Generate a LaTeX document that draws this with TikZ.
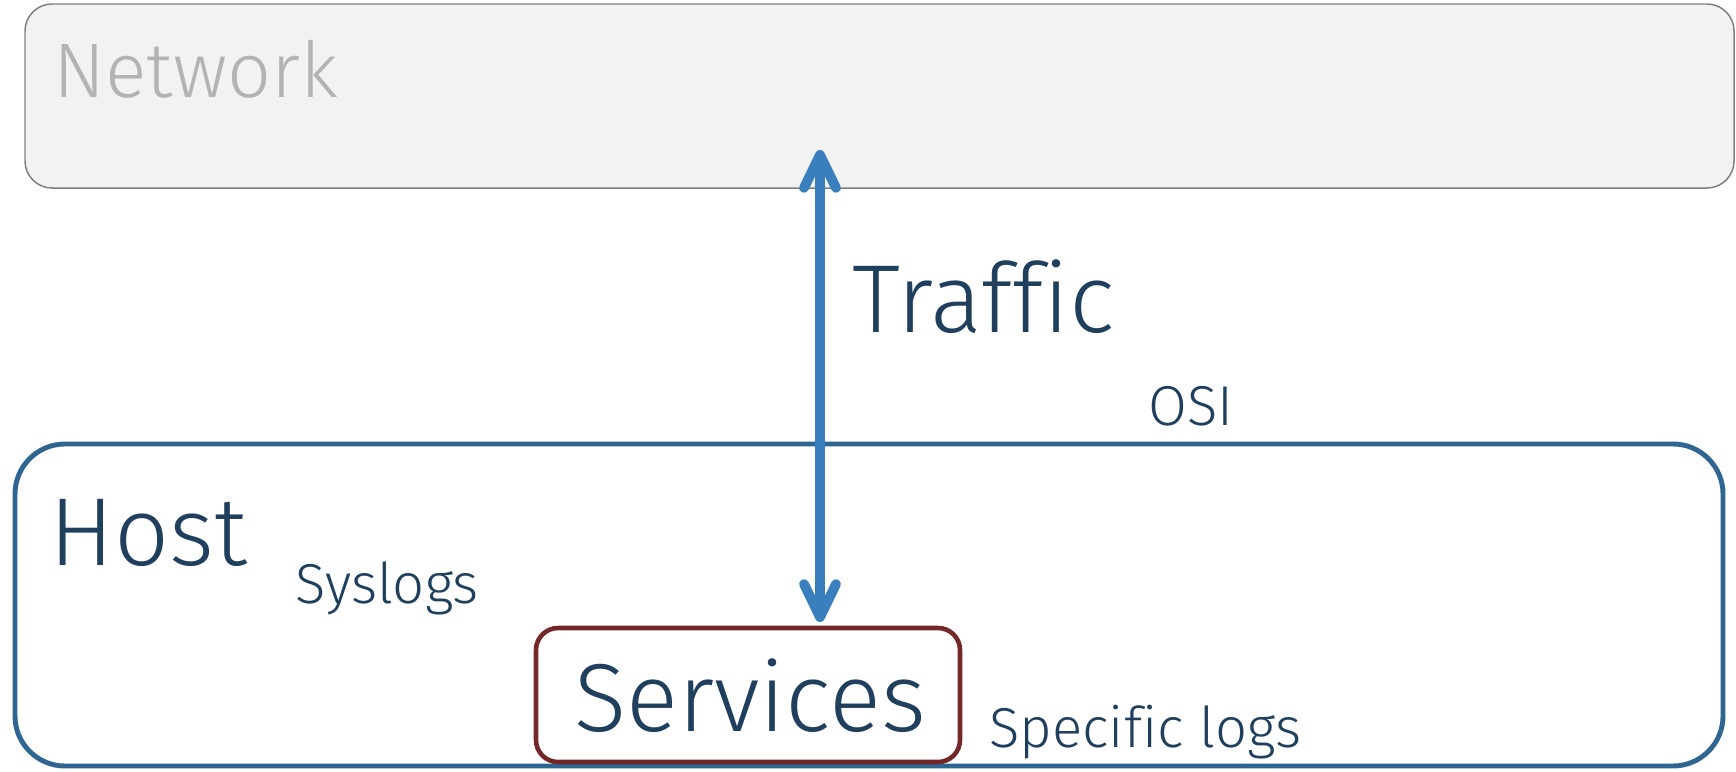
\documentclass[tikz,border=0pt]{standalone}
\usepackage{fontspec}
\setmainfont{Fira Sans Light}[Ligatures=NoCommon]
\usetikzlibrary{arrows.meta,fit}

\definecolor{netfill}{HTML}{F2F2F2}
\definecolor{netline}{HTML}{808080}
\definecolor{nettext}{HTML}{B3B3B3}
\definecolor{hostline}{HTML}{2F6591}
\definecolor{svcline}{HTML}{722828}
\definecolor{darktext}{HTML}{1F3F5C}
\definecolor{flow}{HTML}{3A7FBD}

\begin{document}
\begin{tikzpicture}[x=0.02cm,y=-0.02cm,
    netbox/.style={draw=netline, fill=netfill, line width=0.85pt, rounded corners=0.54cm, inner sep=0pt},
    hostbox/.style={draw=hostline, line width=2.8pt, rounded corners=1cm, inner sep=0pt},
    svcbox/.style={draw=svcline, line width=2.6pt, rounded corners=0.44cm, inner sep=0pt},
    label/.style={anchor=base west, inner sep=0pt, text=darktext},
    big/.style={label, font=\fontsize{55}{60}\selectfont},
    small/.style={label, font=\fontsize{32}{36}\selectfont},
    traffic/.style={draw=flow, line width=5.6pt, line cap=round,
        {Straight Barb[length=0.66cm, width=0.64cm, line cap=round, line join=round]}-{Straight Barb[length=0.66cm, width=0.64cm, line cap=round, line join=round]}}]
    \useasboundingbox (0,0) rectangle (1736,771);

    % Network
    \node[netbox, fit={(25,4) (1734,188)}] (network) {};
    \node[label, text=nettext, font=\fontsize{44}{50}\selectfont] (nettitle) at (53,97) {Network};

    % Host and its services
    \node[hostbox, fit={(15,444) (1723,766)}] (host) {};
    \node[big] (hosttitle) at (49,565) {Host};
    \node[small] (syslogs) at (295,603) {Syslogs};
    \node[svcbox, fit={(536,628) (960,762)}] (services) {};
    \node[big] (svctitle) at (574,731) {Services};
    \node[small] (specific) at (989,747) {Specific logs};

    % Traffic between network and services
    \coordinate (netend) at (820,150);
    \coordinate (svcend) at (820,622);
    \draw[traffic] (svcend) -- (netend);
    \node[big] (traffictitle) at (852,332) {Traffic};
    \node[small] (osi) at (1148,425) {OSI};
\end{tikzpicture}
\end{document}
